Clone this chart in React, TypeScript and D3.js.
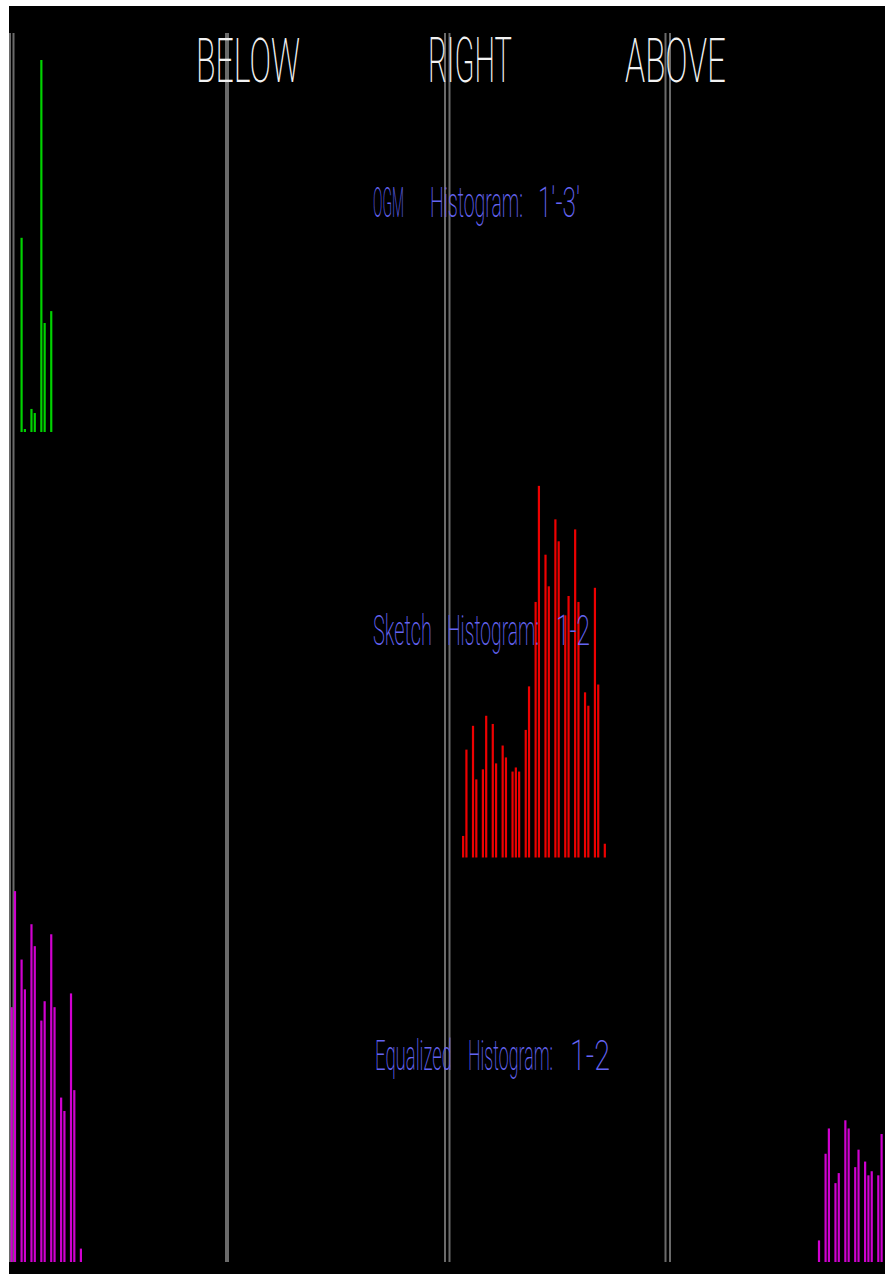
import React, { useLayoutEffect, useRef, useState } from "react";
import * as d3 from "d3";

// ---- data (bin index, bar height as % of the tallest bar) ----
const ogmBins = [3, 4, 6, 7, 9, 10, 12];
const ogmValues = [52.2, 0.8, 6.2, 5.1, 100, 29.3, 32.5];

const sketchBins = [137, 138, 140, 141, 143, 144, 146, 147, 149, 150, 152, 153, 154, 156, 157, 159, 160, 162, 163, 165, 166, 168, 169, 171, 172, 174, 175, 177, 178, 180];
const sketchValues = [5.8, 29.0, 35.4, 21.0, 23.7, 38.1, 35.9, 25.3, 30.1, 26.9, 23.1, 24.2, 23.1, 34.3, 46.0, 68.7, 99.9, 81.4, 72.9, 90.9, 85.0, 65.1, 70.3, 88.2, 68.7, 44.4, 40.8, 72.5, 46.5, 3.7];

const eqLeftBins = [0, 1, 3, 4, 6, 7, 9, 10, 12, 13, 15, 16, 18, 19, 21];
const eqLeftValues = [68.5, 99.7, 81.3, 73.3, 90.8, 84.9, 64.9, 70.1, 88.1, 68.5, 44.2, 40.6, 72.2, 46.2, 3.6];

const eqRightBins = [245, 247, 248, 250, 251, 253, 254, 256, 257, 259, 260, 261, 263, 264];
const eqRightValues = [5.8, 29.1, 35.9, 21.2, 23.9, 38.1, 35.9, 25.5, 30.2, 27.0, 23.3, 24.4, 23.3, 34.4];

const topLabels = ["BELOW", "RIGHT", "ABOVE"];
const ogmTitle = ["OGM", "Histogram:", "1′-3′"];
const sketchTitle = ["Sketch", "Histogram:", "1-2"];
const equalizedTitle = ["Equalized", "Histogram:", "1-2"];

// ---- layout ----
const W = 885;
const H = 1274;
const x = d3.scaleLinear().domain([0, 264]).range([11.7, 881.6]);
const h = d3.scaleLinear().domain([0, 100]).range([0, 372]);

const dividers = [
  { x: 10, w: 2 }, { x: 13.5, w: 2 },
  { x: 227, w: 4 },
  { x: 445, w: 2 }, { x: 449.5, w: 2 },
  { x: 665.5, w: 2 }, { x: 670, w: 2 },
];
const topLabelPos = [
  { x: 196, w: 104 },
  { x: 428, w: 84 },
  { x: 625, w: 101 },
];
const titles = [
  { words: ogmTitle, y: 217, pos: [{ x: 373, w: 31 }, { x: 430, w: 93 }, { x: 538, w: 42 }] },
  { words: sketchTitle, y: 645, pos: [{ x: 373, w: 59 }, { x: 447, w: 92 }, { x: 556, w: 34 }] },
  { words: equalizedTitle, y: 1070, pos: [{ x: 375, w: 77 }, { x: 468, w: 85 }, { x: 570, w: 40 }] },
];

type Series = { bins: number[]; values: number[]; base: number; color: string };
const series: Series[] = [
  { bins: ogmBins, values: ogmValues, base: 432, color: "#00d200" },
  { bins: sketchBins, values: sketchValues, base: 857.5, color: "#ee0000" },
  { bins: eqLeftBins, values: eqLeftValues, base: 1262, color: "#d000d0" },
  { bins: eqRightBins, values: eqRightValues, base: 1262, color: "#d000d0" },
];

const FONT = "Roboto, 'DejaVu Sans', sans-serif";

function FitText(props: { x: number; y: number; w: number; size: number; fill: string; children: string }) {
  const ref = useRef<SVGTextElement>(null);
  const [s, setS] = useState(0.5);
  useLayoutEffect(() => {
    if (ref.current) {
      const len = ref.current.getComputedTextLength();
      if (len > 0) setS(props.w / len);
    }
  }, [props.w, props.children]);
  return (
    <g transform={`translate(${props.x},${props.y}) scale(${s},1)`}>
      <text
        ref={ref}
        x={0}
        y={0}
        fontFamily={FONT}
        fontWeight={200}
        fontSize={props.size}
        fill={props.fill}
      >
        {props.children}
      </text>
    </g>
  );
}

export default function App() {
  return (
    <svg
      width={W}
      height={H}
      style={{ position: "absolute", left: 0, top: 0, display: "block" }}
    >
      <rect x={0} y={0} width={W} height={H} fill="#ffffff" />
      <rect x={9} y={6} width={W - 9} height={H - 6} fill="#000000" />
      {dividers.map((d, i) => (
        <rect key={"d" + i} x={d.x - d.w / 2} y={33} width={d.w} height={1262 - 33} fill="#6a6a6a" />
      ))}
      {series.map((s, si) =>
        s.bins.map((b, i) => {
          const hh = h(s.values[i]);
          return (
            <rect
              key={"b" + si + "-" + i}
              x={x(b) - 1.1}
              y={s.base - hh}
              width={2.2}
              height={hh}
              fill={s.color}
            />
          );
        })
      )}
      {topLabels.map((t, i) => (
        <FitText key={"t" + i} x={topLabelPos[i].x} y={82} w={topLabelPos[i].w} size={62} fill="#f2f2f2">
          {t}
        </FitText>
      ))}
      {titles.map((t, i) =>
        t.words.map((w, j) => (
          <FitText key={"ti" + i + "-" + j} x={t.pos[j].x} y={t.y} w={t.pos[j].w} size={43} fill="#6464f2">
            {w}
          </FitText>
        ))
      )}
    </svg>
  );
}
